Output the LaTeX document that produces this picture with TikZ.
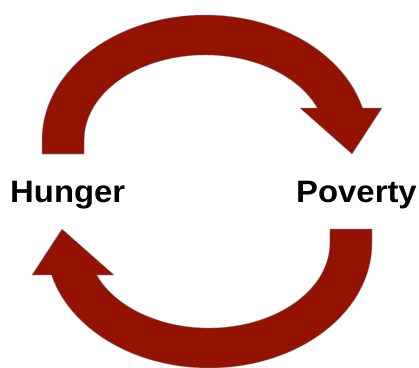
\documentclass[tikz,border=0pt]{standalone}
\usepackage{fontspec}
\setmainfont{Liberation Sans}
\definecolor{arrowred}{RGB}{147,19,0}
\definecolor{edgeblue}{RGB}{120,150,190}
\tikzset{
  arrowshape/.style={fill=arrowred, draw=edgeblue, draw opacity=0.6, line width=0.6pt, line join=miter},
  label/.style={font=\fontsize{31}{31}\selectfont\bfseries, inner sep=0pt, anchor=base west, xscale=1.06},
  curvedarrow/.pic={
    \path[arrowshape]
      (42,154) -- (42,140)
      arc[start angle=180, end angle=345.2, x radius=163, y radius=125]
      -- (382,108) -- (352,154) -- (300,108)
      -- (317.3,108)
      arc[start angle=337.9, end angle=180, x radius=121, y radius=85]
      -- (84,154) -- cycle;
  }
}
\begin{document}
\begin{tikzpicture}[x=1pt,y=-1pt]
\useasboundingbox (0,0) rectangle (419,367);
\pic (toparrow) at (0,0) {curvedarrow};
\pic[rotate=180] (bottomarrow) at (414,383) {curvedarrow};
\node[label] (hunger) at (10,202) {Hunger};
\node[label] (poverty) at (296,202) {Poverty};
\end{tikzpicture}
\end{document}
